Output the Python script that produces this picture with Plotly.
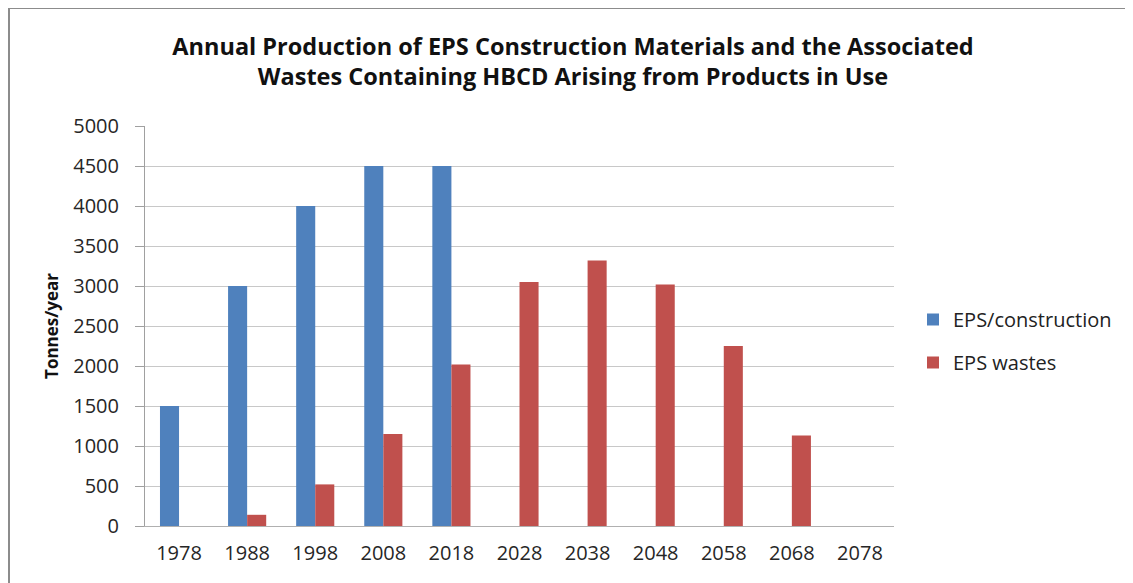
import plotly.graph_objects as go

years = ["1978", "1988", "1998", "2008", "2018", "2028", "2038", "2048", "2058", "2068", "2078"]
eps_construction = [1500, 3000, 4000, 4500, 4500, None, None, None, None, None, None]
eps_wastes = [None, 140, 520, 1150, 2020, 3050, 3320, 3020, 2250, 1130, None]
y_ticks = list(range(0, 5001, 500))

# page is rendered with an 8px body margin; compensate so the plot sits where the reference has it
OFF = 8
W, H = 1133, 583
L, R, T, B = 145 - OFF, 239 + OFF, 126 - OFF, 57 + OFF
pw, ph = W - L - R, H - T - B

fig = go.Figure()
fig.add_trace(go.Bar(x=years, y=eps_construction, name="EPS/construction",
                     marker=dict(color="#4F81BD", line=dict(width=0)),
                     legendgroup="a"))
fig.add_trace(go.Bar(x=years, y=eps_wastes, name="EPS wastes",
                     marker=dict(color="#C0504D", line=dict(width=0)),
                     legendgroup="b"))

def px_x(page_x):
    return (page_x - OFF - L) / pw

def px_y(page_y):
    return (H - B - (page_y - OFF)) / ph

# chart frame (left and top edges)
fx0 = px_x(9)
fy1 = px_y(8)
fig.add_shape(type="line", xref="paper", yref="paper", x0=fx0, x1=fx0, y0=px_y(600), y1=fy1,
              line=dict(color="#8c8c8c", width=2))
fig.add_shape(type="line", xref="paper", yref="paper", x0=fx0, x1=px_x(1200), y0=fy1, y1=fy1,
              line=dict(color="#8c8c8c", width=2))

fig.update_layout(
    width=W, height=H,
    margin=dict(l=L, r=R, t=T, b=B),
    paper_bgcolor="white", plot_bgcolor="white",
    barmode="group", bargap=0.44, bargroupgap=0,
    title=dict(
        text="Annual Production of EPS Construction Materials and the Associated<br>Wastes Containing HBCD Arising from Products in Use",
        x=(573 - OFF) / W, xanchor="center", y=1 - (54.5 - OFF) / H, yanchor="middle",
        font=dict(family="Open Sans", size=23.5, color="#111111", weight="bold"),
    ),
    legend=dict(
        x=px_x(913), xanchor="left", y=px_y(341), yanchor="middle",
        font=dict(family="Open Sans", size=20, color="#222222"),
        traceorder="grouped", tracegroupgap=14,
        bgcolor="rgba(0,0,0,0)",
    ),
    xaxis=dict(
        type="category", showgrid=False, ticks="", showline=True,
        linecolor="#b0b0b0", linewidth=1,
        ticklabelstandoff=9,
        tickfont=dict(family="Open Sans", size=20, color="#262626"),
    ),
    yaxis=dict(
        range=[0, 5000], tickvals=y_ticks, showgrid=True, gridcolor="#c8c8c8", gridwidth=1,
        showline=True, linecolor="#a0a0a0", linewidth=1,
        ticks="outside", ticklen=9, tickcolor="#a0a0a0",
        ticklabelstandoff=12,
        tickfont=dict(family="Open Sans", size=20, color="#262626"),
        title=dict(text="Tonnes/year", standoff=10,
                   font=dict(family="Open Sans", size=17, color="#111111", weight="bold")),
        zeroline=False,
    ),
)

fig.write_html("out.html")
